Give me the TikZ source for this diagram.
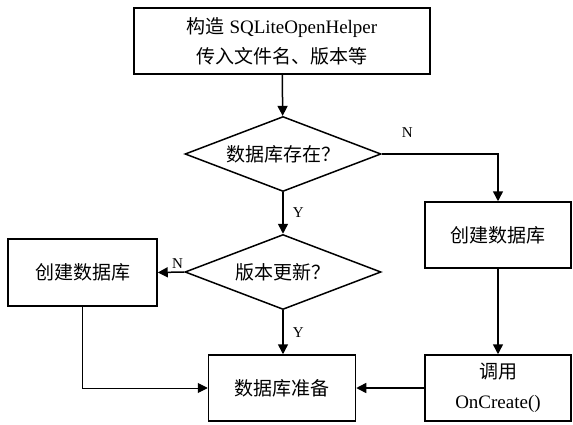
\documentclass[tikz,border=0pt]{standalone}
\usepackage{fontspec}
\setmainfont{Liberation Serif}
\newfontfamily\cjk{Noto Sans CJK SC}
\usetikzlibrary{arrows.meta,positioning,shapes.geometric}

\begin{document}
\begin{tikzpicture}[
  x=1pt, y=-1pt,
  font=\fontsize{19}{30}\selectfont,
  stepbox/.style = {draw=black, line width=1.5pt, rectangle, align=center,
                    minimum height=66pt, inner sep=0pt},
  test/.style    = {draw=black, line width=1.5pt, diamond, aspect=2.6,
                    minimum width=196pt, minimum height=75pt, inner sep=0pt},
  ln/.style      = {-{Triangle[length=10pt, width=10pt]}, draw=black, line width=1.5pt},
  yn/.style      = {font=\fontsize{15}{16}\selectfont, inner sep=1pt},
]
\useasboundingbox (0,0) rectangle (573,425);

% --- main column ---------------------------------------------------------------
\node[stepbox, minimum width=296pt] (helper) at (282,41)
  {{\cjk 构造} SQLiteOpenHelper\\{\cjk 传入文件名、版本等}};
\node[test] (exists) at (283,154) {\cjk 数据库存在？};
\node[test] (newver) at (283,272) {\cjk 版本更新？};
\node[stepbox, minimum width=147pt] (ready) at (282,388) {\cjk 数据库准备};

% --- side boxes ----------------------------------------------------------------
\node[stepbox, minimum width=149pt, minimum height=67pt] (upgrade) at (82.5,272.5) {\cjk 创建数据库};
\node[stepbox, minimum width=146pt] (create) at (498,235) {\cjk 创建数据库};
\node[stepbox, minimum width=146pt] (oncreate) at (498,388) {{\cjk 调用}\\OnCreate()};

% --- connectors ----------------------------------------------------------------
\draw[ln] (helper) -- (exists);
\draw[ln] (exists) -- node[yn, right=8pt] {Y} (newver);
\draw[ln] (exists.east) -| node[yn, pos=0.11, above=15pt] {N} (create.north);
\draw[ln] (newver.west) -- node[yn, above=2pt, pos=0.25] {N} (upgrade.east);
\draw[ln] (newver.south) -- node[yn, right=8pt] {Y} (newver.south |- ready.north);
\draw[ln] (create) -- (oncreate);
\draw[ln] (oncreate) -- (ready);
\draw[ln, line width=1pt] (upgrade.south) |- (ready.west);

\end{tikzpicture}
\end{document}
